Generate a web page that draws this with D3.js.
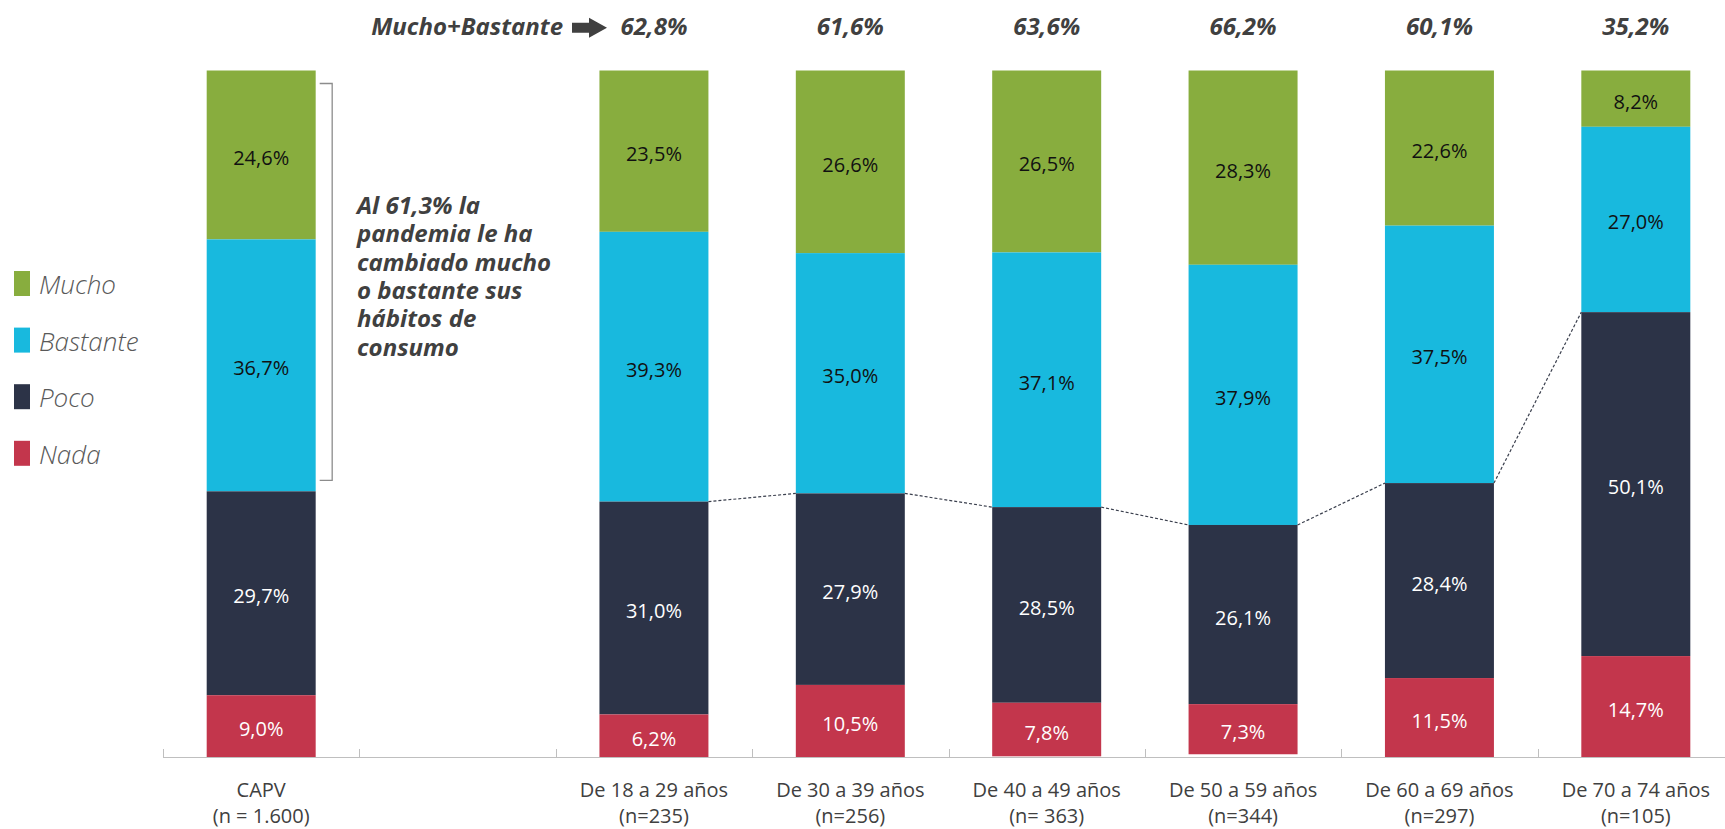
<!DOCTYPE html>
<html>
<head>
<meta charset="utf-8">
<script src="https://cdn.jsdelivr.net/npm/d3@7"></script>
<style>
  html, body { margin: 0; padding: 0; background: #ffffff; }
  svg { display: block; }
</style>
</head>
<body>
<svg id="chart" width="1725" height="829"></svg>
<script>
// Slots along the x axis (one empty slot separates the total from the age groups)
const slots = ["CAPV", "", "18-29", "30-39", "40-49", "50-59", "60-69", "70-74"];
const groups = ["CAPV", "18-29", "30-39", "40-49", "50-59", "60-69", "70-74"];
const labelLine1 = ["CAPV", "De 18 a 29 años", "De 30 a 39 años", "De 40 a 49 años", "De 50 a 59 años", "De 60 a 69 años", "De 70 a 74 años"];
const labelLine2 = ["(n = 1.600)", "(n=235)", "(n=256)", "(n= 363)", "(n=344)", "(n=297)", "(n=105)"];

// Series, stacked from the top down
const seriesNames = ["Mucho", "Bastante", "Poco", "Nada"];
const mucho    = [24.6, 23.5, 26.6, 26.5, 28.3, 22.6,  8.2];
const bastante = [36.7, 39.3, 35.0, 37.1, 37.9, 37.5, 27.0];
const poco     = [29.7, 31.0, 27.9, 28.5, 26.1, 28.4, 50.1];
const nada     = [ 9.0,  6.2, 10.5,  7.8,  7.3, 11.5, 14.7];
const seriesColors = ["#88ad3e", "#18b9de", "#2c3347", "#c3364c"];
const labelColors  = ["#111111", "#111111", "#ffffff", "#ffffff"];

const headerTitle = "Mucho+Bastante";
const annotationLines = ["Al 61,3% la", "pandemia le ha", "cambiado mucho", "o bastante sus", "hábitos de", "consumo"];

const fmt = v => d3.format(".1f")(v).replace(".", ",") + "%";

const svg = d3.select("#chart");
const FONT = "'Open Sans', 'Noto Sans', sans-serif";
const TEXT = "#404040";

// Scales
const x = d3.scaleBand().domain(slots).range([163, 1734]).paddingInner(0.445).paddingOuter(0.2225);
const step = x.step();
const y = d3.scaleLinear().domain([0, 100]).range([70.5, 757]);

const values = [mucho, bastante, poco, nada];
const rows = groups.map((g, i) => {
  let acc = 0;
  const segs = seriesNames.map((s, k) => {
    const v = values[k][i];
    const seg = { key: s, k, v, y0: acc, y1: acc + v };
    acc += v;
    return seg;
  });
  return { group: g, i, segs };
});

// Bars
const gBars = svg.append("g");
rows.forEach(r => {
  const gx = x(r.group);
  const g = gBars.append("g");
  g.selectAll("rect").data(r.segs).join("rect")
    .attr("x", gx)
    .attr("y", d => y(d.y0))
    .attr("width", x.bandwidth())
    .attr("height", d => y(d.y1) - y(d.y0))
    .attr("fill", d => seriesColors[d.k]);
  g.selectAll("text").data(r.segs).join("text")
    .attr("x", gx + x.bandwidth() / 2)
    .attr("y", d => (y(d.y0) + y(d.y1)) / 2 + 3)
    .attr("dy", "0.35em")
    .attr("text-anchor", "middle")
    .attr("font-family", FONT)
    .attr("font-size", 20)
    .attr("fill", d => labelColors[d.k])
    .text(d => fmt(d.v));
});

// Dashed connector joining the top of the "Poco" segment across age groups
const ageRows = rows.slice(1);
const pocoTop = r => y(r.segs[2].y0);
const gLinks = svg.append("g");
for (let j = 0; j < ageRows.length - 1; j++) {
  const a = ageRows[j], b = ageRows[j + 1];
  gLinks.append("line")
    .attr("x1", x(a.group) + x.bandwidth())
    .attr("y1", pocoTop(a))
    .attr("x2", x(b.group))
    .attr("y2", pocoTop(b))
    .attr("stroke", "#3a3f4d")
    .attr("stroke-width", 1.2)
    .attr("stroke-dasharray", "3,2");
}

// X axis: baseline with upward ticks at slot boundaries
const axisG = svg.append("g");
const x0 = x.range()[0], x1 = x.range()[1];
axisG.append("line")
  .attr("x1", x0).attr("x2", x1)
  .attr("y1", y(100) + 0.5).attr("y2", y(100) + 0.5)
  .attr("stroke", "#bfbfbf").attr("stroke-width", 1);
d3.range(slots.length + 1).forEach(i => {
  const tx = Math.round(x0 + i * step) + 0.5;
  axisG.append("line")
    .attr("x1", tx).attr("x2", tx)
    .attr("y1", y(100) - 8).attr("y2", y(100) + 0.5)
    .attr("stroke", "#bfbfbf").attr("stroke-width", 1);
});

// Category labels
groups.forEach((g, i) => {
  const cx = x(g) + x.bandwidth() / 2;
  const t = axisG.append("text")
    .attr("text-anchor", "middle")
    .attr("font-family", FONT)
    .attr("font-size", 20)
    .attr("fill", TEXT);
  t.append("tspan").attr("x", cx).attr("y", 797).text(labelLine1[i]);
  t.append("tspan").attr("x", cx).attr("y", 823).text(labelLine2[i]);
});

// Header: Mucho+Bastante totals above each age group
const headerY = 35;
const hdr = svg.append("g")
  .attr("font-family", FONT)
  .attr("font-weight", 700)
  .attr("font-style", "italic")
  .attr("font-size", 24)
  .attr("fill", TEXT);
ageRows.forEach(r => {
  hdr.append("text")
    .attr("x", x(r.group) + x.bandwidth() / 2)
    .attr("y", headerY)
    .attr("text-anchor", "middle")
    .text(fmt(r.segs[0].v + r.segs[1].v));
});
hdr.append("text")
  .attr("x", 563)
  .attr("y", headerY)
  .attr("text-anchor", "end")
  .text(headerTitle);
// block arrow
const ax = 572, ay = 27.7;
hdr.append("path")
  .attr("d", `M${ax},${ay - 5} H${ax + 17} V${ay - 10} L${ax + 35},${ay} L${ax + 17},${ay + 10} V${ay + 5} H${ax} Z`)
  .attr("fill", TEXT);

// Bracket spanning Mucho+Bastante of the total bar
const capv = rows[0];
const bx = x("CAPV") + x.bandwidth();
const bTop = y(capv.segs[0].y0) + 13;
const bBot = y(capv.segs[1].y1) - 11;
svg.append("path")
  .attr("d", `M${bx + 4},${bTop} H${bx + 16.5} V${bBot} H${bx + 4}`)
  .attr("fill", "none")
  .attr("stroke", "#8c8c8c")
  .attr("stroke-width", 1.3);

// Annotation
const ann = svg.append("text")
  .attr("font-family", FONT)
  .attr("font-weight", 700)
  .attr("font-style", "italic")
  .attr("font-size", 24)
  .attr("fill", TEXT);
annotationLines.forEach((line, i) => {
  ann.append("tspan").attr("x", 357).attr("y", 214 + i * 28.3).text(line);
});

// Legend
const legend = svg.append("g");
seriesNames.forEach((s, k) => {
  const ly = 285 + k * 56.6;
  legend.append("rect")
    .attr("x", 14).attr("y", ly - 14)
    .attr("width", 16).attr("height", 25)
    .attr("fill", seriesColors[k]);
  legend.append("text")
    .attr("x", 39).attr("y", ly)
    .attr("dy", "0.35em")
    .attr("font-family", FONT)
    .attr("font-style", "italic")
    .attr("font-weight", 300)
    .attr("font-size", 26)
    .attr("fill", "#595959")
    .text(s);
});
</script>
</body>
</html>
